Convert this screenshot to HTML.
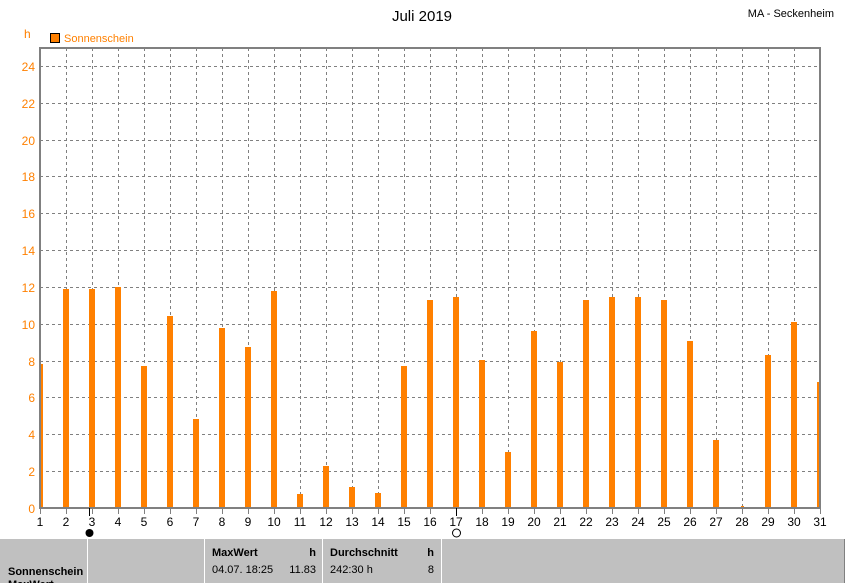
<!DOCTYPE html>
<html><head><meta charset="utf-8"><style>
body{margin:0;background:#fff;width:845px;height:583px;overflow:hidden;font-family:"Liberation Sans",sans-serif}
svg{display:block}
</style></head><body>
<svg width="845" height="583" xmlns="http://www.w3.org/2000/svg" font-family="Liberation Sans, sans-serif">
<rect width="845" height="583" fill="#fff"/>
<text x="422" y="21" font-size="15" text-anchor="middle" fill="#000">Juli 2019</text>
<text x="834" y="17" font-size="11" text-anchor="end" fill="#000">MA - Seckenheim</text>
<text x="24" y="38" font-size="12" fill="#ff8000">h</text>
<rect x="50.5" y="33.5" width="9" height="9" fill="#ff8000" stroke="#000"/>
<text x="64" y="42" font-size="11" fill="#ff8000">Sonnenschein</text>
<g id="grid" stroke="#808080" stroke-dasharray="3,3" stroke-width="1">
<script>/* static */</script>
</g>
<g stroke="#808080" stroke-dasharray="3,3" stroke-width="1">
<line x1="40" x2="820" y1="66.5" y2="66.5"/><line x1="40" x2="820" y1="103.5" y2="103.5"/><line x1="40" x2="820" y1="140.5" y2="140.5"/><line x1="40" x2="820" y1="176.5" y2="176.5"/><line x1="40" x2="820" y1="213.5" y2="213.5"/><line x1="40" x2="820" y1="250.5" y2="250.5"/><line x1="40" x2="820" y1="287.5" y2="287.5"/><line x1="40" x2="820" y1="324.5" y2="324.5"/><line x1="40" x2="820" y1="361.5" y2="361.5"/><line x1="40" x2="820" y1="397.5" y2="397.5"/><line x1="40" x2="820" y1="434.5" y2="434.5"/><line x1="40" x2="820" y1="471.5" y2="471.5"/>
<line x1="66.5" x2="66.5" y1="48" y2="508"/><line x1="92.5" x2="92.5" y1="48" y2="508"/><line x1="118.5" x2="118.5" y1="48" y2="508"/><line x1="144.5" x2="144.5" y1="48" y2="508"/><line x1="170.5" x2="170.5" y1="48" y2="508"/><line x1="196.5" x2="196.5" y1="48" y2="508"/><line x1="222.5" x2="222.5" y1="48" y2="508"/><line x1="248.5" x2="248.5" y1="48" y2="508"/><line x1="274.5" x2="274.5" y1="48" y2="508"/><line x1="300.5" x2="300.5" y1="48" y2="508"/><line x1="326.5" x2="326.5" y1="48" y2="508"/><line x1="352.5" x2="352.5" y1="48" y2="508"/><line x1="378.5" x2="378.5" y1="48" y2="508"/><line x1="404.5" x2="404.5" y1="48" y2="508"/><line x1="430.5" x2="430.5" y1="48" y2="508"/><line x1="456.5" x2="456.5" y1="48" y2="508"/><line x1="482.5" x2="482.5" y1="48" y2="508"/><line x1="508.5" x2="508.5" y1="48" y2="508"/><line x1="534.5" x2="534.5" y1="48" y2="508"/><line x1="560.5" x2="560.5" y1="48" y2="508"/><line x1="586.5" x2="586.5" y1="48" y2="508"/><line x1="612.5" x2="612.5" y1="48" y2="508"/><line x1="638.5" x2="638.5" y1="48" y2="508"/><line x1="664.5" x2="664.5" y1="48" y2="508"/><line x1="690.5" x2="690.5" y1="48" y2="508"/><line x1="716.5" x2="716.5" y1="48" y2="508"/><line x1="742.5" x2="742.5" y1="48" y2="508"/><line x1="768.5" x2="768.5" y1="48" y2="508"/><line x1="794.5" x2="794.5" y1="48" y2="508"/>
</g>
<g fill="#ff8000">
<rect x="40" y="364" width="3" height="144"/>
<rect x="63" y="289" width="6" height="219"/>
<rect x="89" y="289" width="6" height="219"/>
<rect x="115" y="287" width="6" height="221"/>
<rect x="141" y="366" width="6" height="142"/>
<rect x="167" y="316" width="6" height="192"/>
<rect x="193" y="419" width="6" height="89"/>
<rect x="219" y="328" width="6" height="180"/>
<rect x="245" y="347" width="6" height="161"/>
<rect x="271" y="291" width="6" height="217"/>
<rect x="297" y="494" width="6" height="14"/>
<rect x="323" y="466" width="6" height="42"/>
<rect x="349" y="487" width="6" height="21"/>
<rect x="375" y="493" width="6" height="15"/>
<rect x="401" y="366" width="6" height="142"/>
<rect x="427" y="300" width="6" height="208"/>
<rect x="453" y="297" width="6" height="211"/>
<rect x="479" y="360" width="6" height="148"/>
<rect x="505" y="452" width="6" height="56"/>
<rect x="531" y="331" width="6" height="177"/>
<rect x="557" y="362" width="6" height="146"/>
<rect x="583" y="300" width="6" height="208"/>
<rect x="609" y="297" width="6" height="211"/>
<rect x="635" y="297" width="6" height="211"/>
<rect x="661" y="300" width="6" height="208"/>
<rect x="687" y="341" width="6" height="167"/>
<rect x="713" y="440" width="6" height="68"/>
<rect x="741" y="506" width="3" height="2"/>
<rect x="765" y="355" width="6" height="153"/>
<rect x="791" y="322" width="6" height="186"/>
<rect x="817" y="382" width="3" height="126"/>
</g>
<rect x="40" y="48" width="780" height="460" fill="none" stroke="#808080" stroke-width="2"/>
<g font-size="12" fill="#ff8000" text-anchor="end">
<text x="35" y="71">24</text><text x="35" y="108">22</text><text x="35" y="145">20</text><text x="35" y="181">18</text><text x="35" y="218">16</text><text x="35" y="255">14</text><text x="35" y="292">12</text><text x="35" y="329">10</text><text x="35" y="366">8</text><text x="35" y="402">6</text><text x="35" y="439">4</text><text x="35" y="476">2</text><text x="35" y="513">0</text>
</g>
<g stroke="#808080"><line x1="40.5" x2="40.5" y1="508" y2="514"/><line x1="66.5" x2="66.5" y1="508" y2="514"/><line x1="92.5" x2="92.5" y1="508" y2="514"/><line x1="118.5" x2="118.5" y1="508" y2="514"/><line x1="144.5" x2="144.5" y1="508" y2="514"/><line x1="170.5" x2="170.5" y1="508" y2="514"/><line x1="196.5" x2="196.5" y1="508" y2="514"/><line x1="222.5" x2="222.5" y1="508" y2="514"/><line x1="248.5" x2="248.5" y1="508" y2="514"/><line x1="274.5" x2="274.5" y1="508" y2="514"/><line x1="300.5" x2="300.5" y1="508" y2="514"/><line x1="326.5" x2="326.5" y1="508" y2="514"/><line x1="352.5" x2="352.5" y1="508" y2="514"/><line x1="378.5" x2="378.5" y1="508" y2="514"/><line x1="404.5" x2="404.5" y1="508" y2="514"/><line x1="430.5" x2="430.5" y1="508" y2="514"/><line x1="456.5" x2="456.5" y1="508" y2="514"/><line x1="482.5" x2="482.5" y1="508" y2="514"/><line x1="508.5" x2="508.5" y1="508" y2="514"/><line x1="534.5" x2="534.5" y1="508" y2="514"/><line x1="560.5" x2="560.5" y1="508" y2="514"/><line x1="586.5" x2="586.5" y1="508" y2="514"/><line x1="612.5" x2="612.5" y1="508" y2="514"/><line x1="638.5" x2="638.5" y1="508" y2="514"/><line x1="664.5" x2="664.5" y1="508" y2="514"/><line x1="690.5" x2="690.5" y1="508" y2="514"/><line x1="716.5" x2="716.5" y1="508" y2="514"/><line x1="742.5" x2="742.5" y1="508" y2="514"/><line x1="768.5" x2="768.5" y1="508" y2="514"/><line x1="794.5" x2="794.5" y1="508" y2="514"/><line x1="820.5" x2="820.5" y1="508" y2="514"/></g>
<line x1="89.5" x2="89.5" y1="508" y2="516" stroke="#000"/><line x1="456.5" x2="456.5" y1="508" y2="516" stroke="#000"/>
<g font-size="12" fill="#000" text-anchor="middle">
<text x="40" y="526">1</text><text x="66" y="526">2</text><text x="92" y="526">3</text><text x="118" y="526">4</text><text x="144" y="526">5</text><text x="170" y="526">6</text><text x="196" y="526">7</text><text x="222" y="526">8</text><text x="248" y="526">9</text><text x="274" y="526">10</text><text x="300" y="526">11</text><text x="326" y="526">12</text><text x="352" y="526">13</text><text x="378" y="526">14</text><text x="404" y="526">15</text><text x="430" y="526">16</text><text x="456" y="526">17</text><text x="482" y="526">18</text><text x="508" y="526">19</text><text x="534" y="526">20</text><text x="560" y="526">21</text><text x="586" y="526">22</text><text x="612" y="526">23</text><text x="638" y="526">24</text><text x="664" y="526">25</text><text x="690" y="526">26</text><text x="716" y="526">27</text><text x="742" y="526">28</text><text x="768" y="526">29</text><text x="794" y="526">30</text><text x="820" y="526">31</text>
</g>
<circle cx="89.5" cy="533" r="4" fill="#000"/>
<circle cx="456.5" cy="533" r="4" fill="none" stroke="#000"/>
<rect x="0" y="539" width="845" height="44" fill="#c0c0c0"/>
<g stroke="#fff" stroke-width="1"><line x1="87.5" x2="87.5" y1="539" y2="583"/><line x1="204.5" x2="204.5" y1="539" y2="583"/><line x1="322.5" x2="322.5" y1="539" y2="583"/><line x1="441.5" x2="441.5" y1="539" y2="583"/></g>
<line x1="844.5" x2="844.5" y1="539" y2="583" stroke="#808080"/>
<g font-size="11" fill="#000">
<text x="8" y="575" font-weight="bold">Sonnenschein</text>
<text x="8" y="588" font-weight="bold">MaxWert</text>
<text x="212" y="556" font-weight="bold">MaxWert</text>
<text x="316" y="556" font-weight="bold" text-anchor="end">h</text>
<text x="212" y="573">04.07.  18:25</text>
<text x="316" y="573" text-anchor="end">11.83</text>
<text x="330" y="556" font-weight="bold">Durchschnitt</text>
<text x="434" y="556" font-weight="bold" text-anchor="end">h</text>
<text x="330" y="573">242:30 h</text>
<text x="434" y="573" text-anchor="end">8</text>
</g>
</svg>
</body></html>
